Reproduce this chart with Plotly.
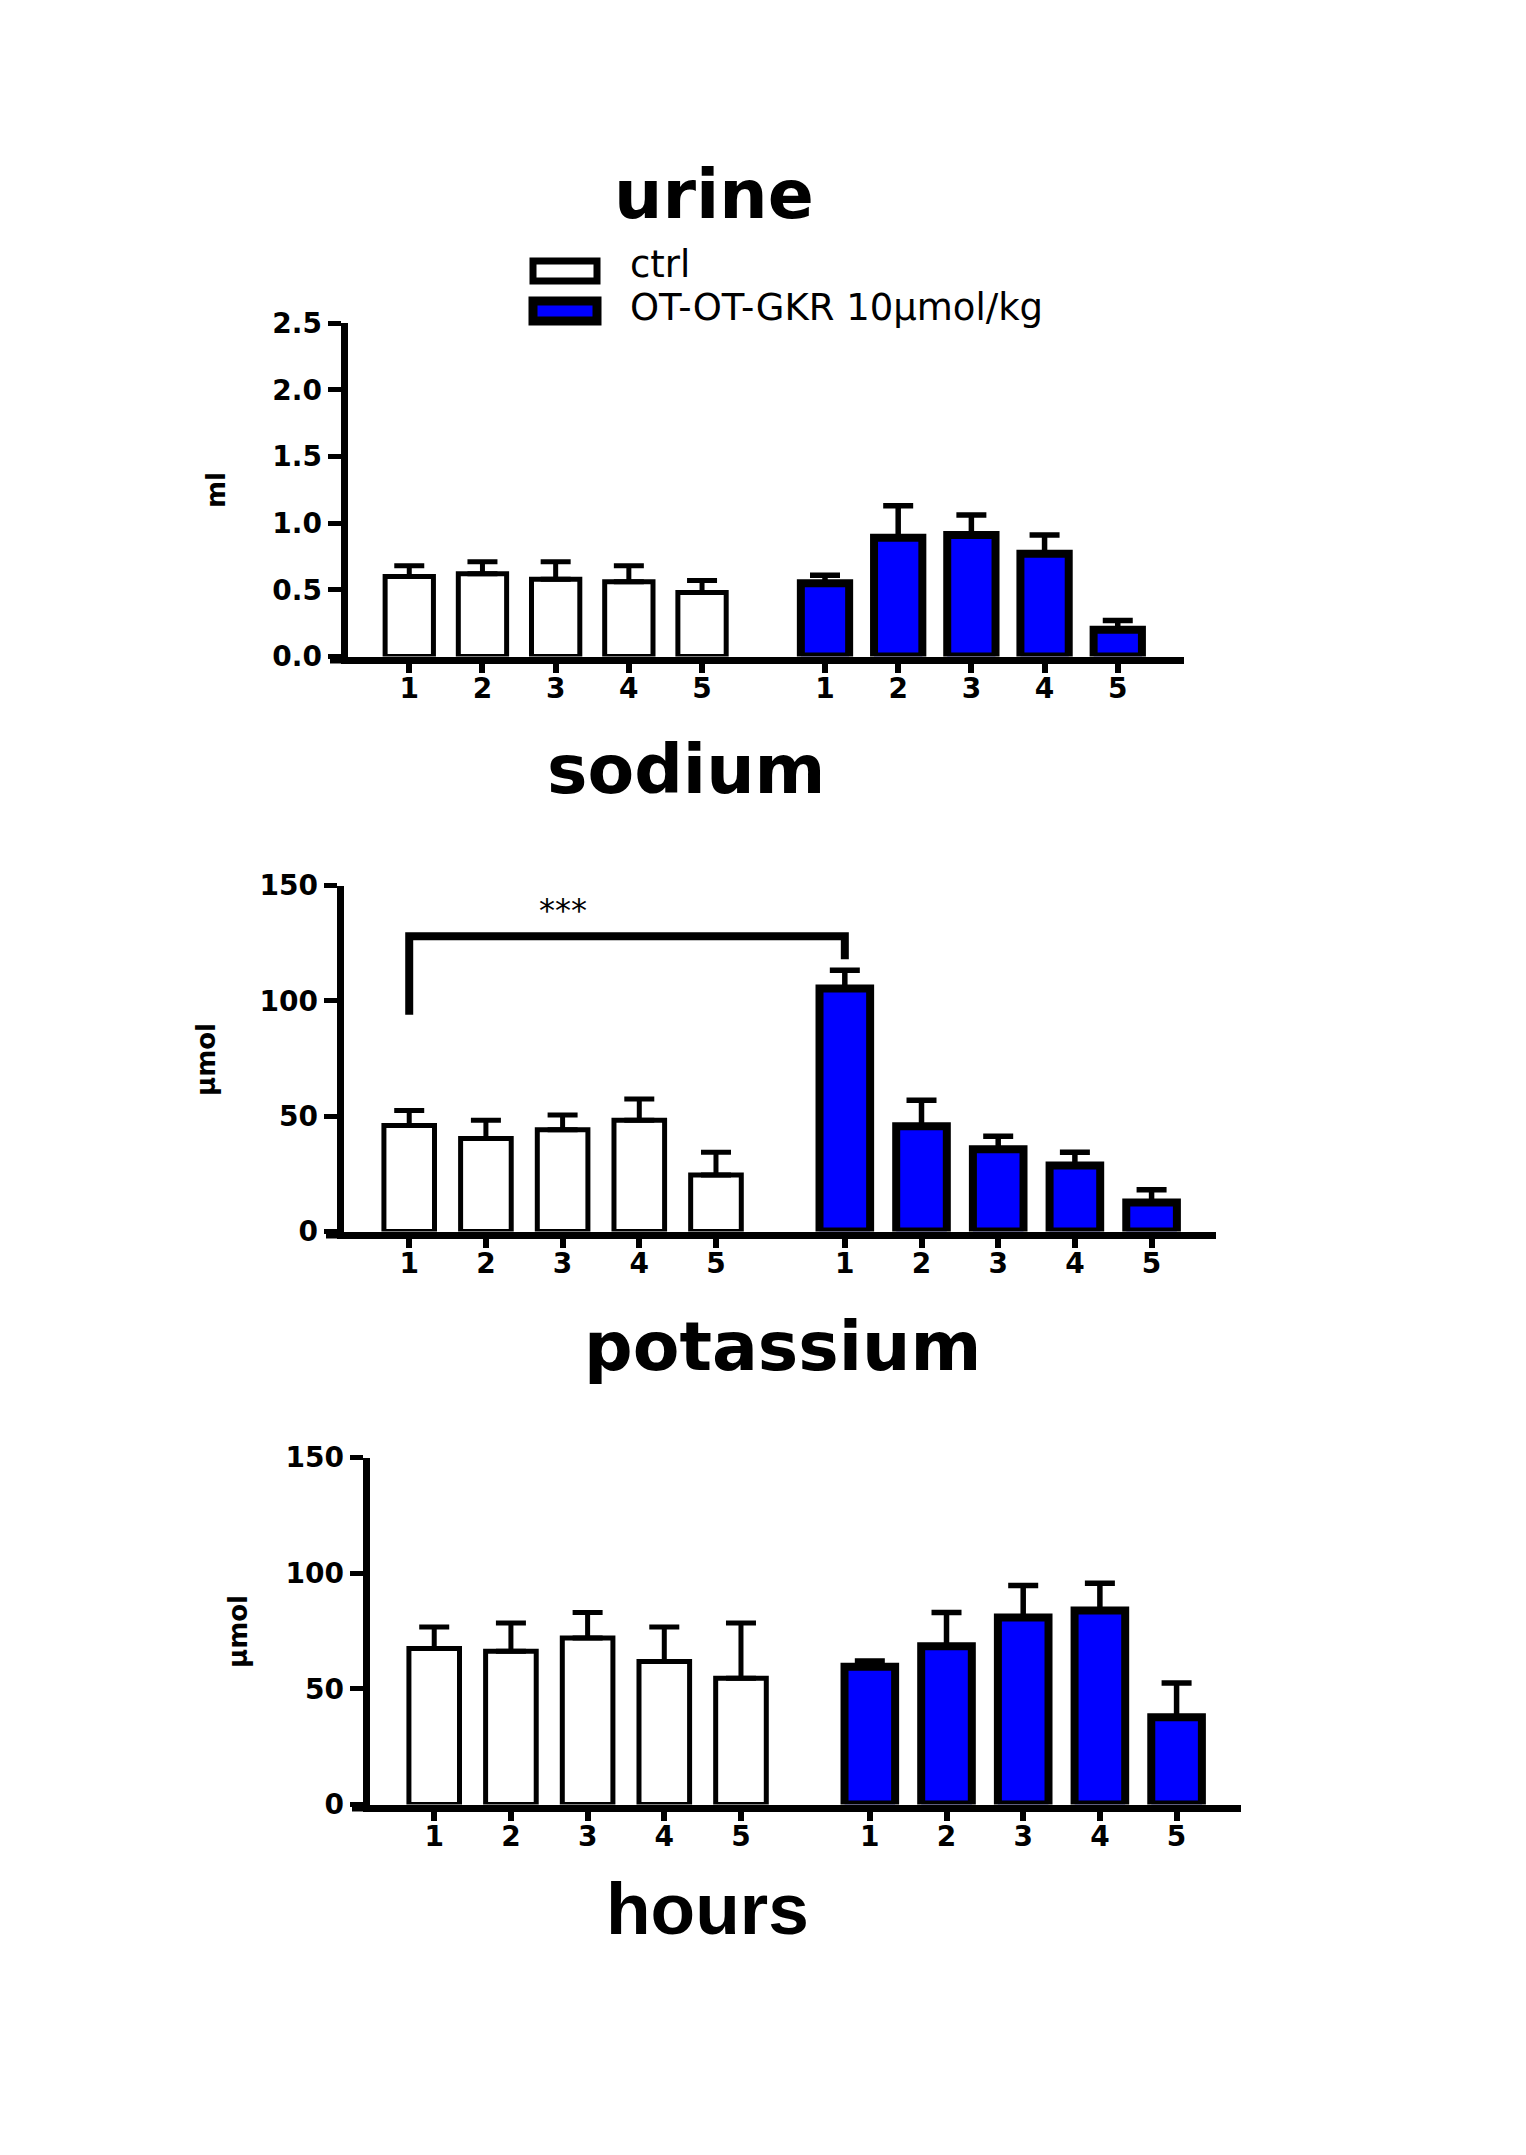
import numpy as np
import plotly.graph_objects as go

# ---------------- data ----------------
hours = ["1", "2", "3", "4", "5"]
group_names = ["ctrl", "OT-OT-GKR 10µmol/kg"]

urine_ctrl = [0.60, 0.62, 0.58, 0.56, 0.48]
urine_ctrl_sem = [0.08, 0.09, 0.13, 0.12, 0.09]
urine_ot = [0.55, 0.89, 0.91, 0.77, 0.20]
urine_ot_sem = [0.06, 0.24, 0.15, 0.14, 0.07]

sodium_ctrl = [45.9, 40.3, 44.1, 48.2, 24.5]
sodium_ctrl_sem = [6.6, 7.9, 6.4, 9.2, 9.9]
sodium_ot = [105.3, 45.6, 35.7, 28.6, 12.6]
sodium_ot_sem = [8.0, 11.3, 5.6, 5.8, 5.5]

potassium_ctrl = [67.4, 66.3, 72.0, 61.8, 54.6]
potassium_ctrl_sem = [9.3, 12.2, 11.0, 14.9, 23.9]
potassium_ot = [59.5, 68.4, 80.8, 83.9, 37.7]
potassium_ot_sem = [2.5, 14.6, 13.9, 11.7, 14.8]

panel_titles = ["urine", "sodium", "potassium"]
y_titles = ["ml", "µmol", "µmol"]
y_ticks_urine = [0.0, 0.5, 1.0, 1.5, 2.0, 2.5]
y_ticks_ion = [0, 50, 100, 150]

sig_label = "***"
sig_bracket_y = [94, 128, 118]  # left foot, top, right foot (sodium)

# ---------------- layout helpers ----------------
W, H = 1526, 2155


def fx(p):
    return p / W


def fy(p):
    return 1 - p / H


gap = 1.68
x_ctrl = np.arange(1, 6).astype(float)
x_ot = x_ctrl + 4 + gap
tickvals = list(x_ctrl) + list(x_ot)
ticktext = hours + hours

BLUE = "#0000FF"
TICKFONT = dict(family="DejaVu Sans", size=28, color="black", weight="bold")

# pixel boxes: (left, right, top, bottom) of axes lines, x range
panels = [
    dict(ctrl=urine_ctrl, ctrl_sem=urine_ctrl_sem, ot=urine_ot, ot_sem=urine_ot_sem,
         box=(344, 1184, 323, 660), xr=[0.156, 11.585], yr=[0, 2.5],
         yticks=y_ticks_urine, fmt=".1f"),
    dict(ctrl=sodium_ctrl, ctrl_sem=sodium_ctrl_sem, ot=sodium_ot, ot_sem=sodium_ot_sem,
         box=(340, 1216, 885.5, 1235), xr=[0.143, 11.52], yr=[0, 150],
         yticks=y_ticks_ion, fmt="d"),
    dict(ctrl=potassium_ctrl, ctrl_sem=potassium_ctrl_sem, ot=potassium_ot, ot_sem=potassium_ot_sem,
         box=(366, 1241, 1457.5, 1808), xr=[0.156, 11.52], yr=[0, 150],
         yticks=y_ticks_ion, fmt="d"),
]

fig = go.Figure()
layout = dict(
    template="none",
    width=W, height=H, margin=dict(l=0, r=0, t=0, b=0, pad=0, autoexpand=False),
    paper_bgcolor="white", plot_bgcolor="white",
    barmode="overlay", showlegend=False,
    shapes=[], annotations=[],
)

LW = 7
for i, p in enumerate(panels):
    k = "" if i == 0 else str(i + 1)
    xa, ya = "x" + k, "y" + k
    l, r, t, b = p["box"]
    dom_x = [fx(l + LW / 2), fx(r)]
    dom_y = [fy(b - LW / 2), fy(t)]

    fig.add_trace(go.Bar(
        x=x_ctrl, y=p["ctrl"], width=0.66, name=group_names[0],
        marker=dict(color="white", line=dict(color="black", width=5)),
        error_y=dict(type="data", array=p["ctrl_sem"], arrayminus=[0] * 5,
                     symmetric=False, color="black", thickness=5, width=15),
        xaxis=xa, yaxis=ya,
    ))
    fig.add_trace(go.Bar(
        x=x_ot, y=p["ot"], width=0.66, name=group_names[1],
        marker=dict(color=BLUE, line=dict(color="black", width=8)),
        error_y=dict(type="data", array=p["ot_sem"], arrayminus=[0] * 5,
                     symmetric=False, color="black", thickness=5.5, width=15),
        xaxis=xa, yaxis=ya,
    ))

    layout["xaxis" + k] = dict(
        domain=dom_x, range=p["xr"], anchor=ya, showline=True, linewidth=LW,
        linecolor="black", ticks="outside", ticklen=9, tickwidth=6, tickcolor="black",
        tickvals=tickvals, ticktext=ticktext, tickfont=TICKFONT, ticklabelstandoff=-8,
        showgrid=False, zeroline=False, fixedrange=True, automargin=False,
    )
    layout["yaxis" + k] = dict(
        domain=dom_y, range=p["yr"], anchor=xa, showline=True, linewidth=LW,
        linecolor="black", ticks="outside", ticklen=13, tickwidth=5, tickcolor="black",
        tickvals=p["yticks"], tickformat=p["fmt"], tickfont=TICKFONT,
        showgrid=False, zeroline=False, fixedrange=True, automargin=False,
    )
    layout["shapes"].append(dict(
        type="line", xref="paper", yref="paper",
        x0=fx(l - 14), x1=fx(l + 2), y0=fy(b), y1=fy(b),
        line=dict(color="black", width=LW),
    ))

# ---------------- significance bracket (sodium) ----------------
x_left, x_right = x_ctrl[0], x_ot[0]
yl, yt, yr_ = sig_bracket_y
layout["shapes"].append(dict(
    type="path", xref="x2", yref="y2",
    path=f"M {x_left},{yl} L {x_left},{yt} L {x_right},{yt} L {x_right},{yr_}",
    line=dict(color="black", width=8),
))
layout["annotations"].append(dict(
    x=(x_left + x_right) / 2 - 0.84, y=139.5, xref="x2", yref="y2",
    text=sig_label, showarrow=False, xanchor="center", yanchor="middle",
    font=dict(family="DejaVu Sans", size=32, color="black"),
))

# ---------------- titles ----------------
TITLE_FONT = dict(family="DejaVu Sans", size=68, color="black", weight="bold")
for txt, (cx, cy) in zip(panel_titles, [(714, 194), (686, 769), (782, 1346)]):
    layout["annotations"].append(dict(
        x=fx(cx), y=fy(cy), xref="paper", yref="paper", text=txt,
        showarrow=False, xanchor="center", yanchor="middle", font=TITLE_FONT,
    ))
layout["annotations"].append(dict(
    x=fx(707), y=fy(1908), xref="paper", yref="paper", text="hours",
    showarrow=False, xanchor="center", yanchor="middle",
    font=dict(family="Liberation Sans", size=73, color="black", weight="bold"),
))

for txt, (cx, cy) in zip(y_titles, [(216, 490), (206, 1059), (238, 1632)]):
    layout["annotations"].append(dict(
        x=fx(cx), y=fy(cy), xref="paper", yref="paper", text=txt, textangle=-90,
        showarrow=False, xanchor="center", yanchor="middle",
        font=dict(family="DejaVu Sans", size=26, color="black", weight="bold"),
    ))

# ---------------- legend (drawn) ----------------
layout["shapes"].append(dict(
    type="rect", xref="paper", yref="paper",
    x0=fx(533), x1=fx(597), y0=fy(281), y1=fy(261),
    line=dict(color="black", width=7), fillcolor="white",
))
layout["shapes"].append(dict(
    type="rect", xref="paper", yref="paper",
    x0=fx(533), x1=fx(597), y0=fy(321), y1=fy(301),
    line=dict(color="black", width=9), fillcolor=BLUE,
))
LEG_FONT = dict(family="DejaVu Sans", size=37, color="black")
for txt, cy in zip(group_names, [264, 308]):
    layout["annotations"].append(dict(
        x=fx(628), y=fy(cy), xref="paper", yref="paper", text=txt,
        showarrow=False, xanchor="left", yanchor="middle", font=LEG_FONT,
    ))

fig.update_layout(**layout)
fig.write_html(
    "out.html",
    post_script="document.body.style.margin='0';document.body.style.padding='0';"
                "document.documentElement.style.overflow='hidden';",
)
